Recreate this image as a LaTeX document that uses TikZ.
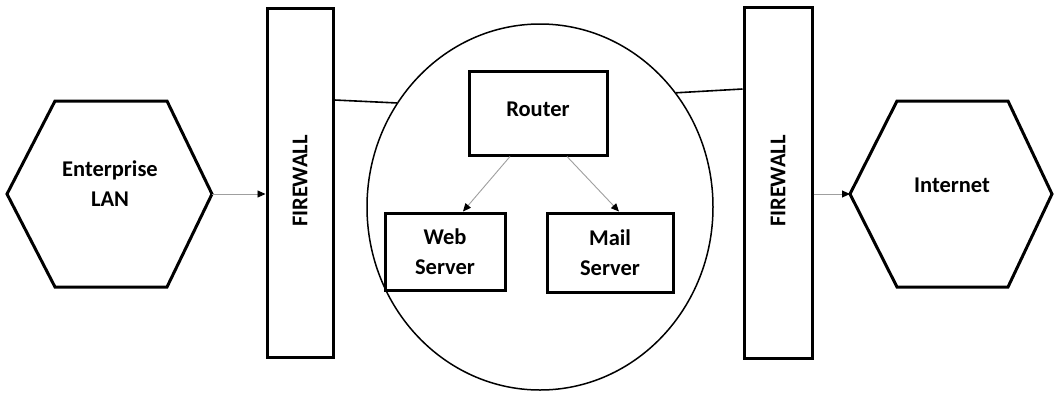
\documentclass[tikz,border=0pt]{standalone}
\usepackage{fontspec}
\setmainfont{Carlito}
\usetikzlibrary{arrows.meta,shapes.geometric}
\begin{document}
\begin{tikzpicture}[x=1pt,y=-1pt,
  lbl/.style={font=\bfseries\fontsize{22.5}{30}\selectfont, align=center, inner sep=0},
  hexline/.style={line width=3pt, line join=miter},
  fwbox/.style={draw, line width=3pt, inner sep=0},
  srvbox/.style={draw, line width=3pt, inner sep=0, font=\bfseries\fontsize{22.5}{30}\selectfont, align=center},
  conn/.style={line width=1.6pt},
  arr/.style={draw=gray!75, line width=0.9pt, -{Triangle[length=8pt,width=7pt,color=black]}}
]
\useasboundingbox (0,0) rectangle (1055,392);
\fill[white] (0,0) rectangle (1055,392);

% left hexagon
\draw[hexline] (7,194) coordinate (lanW) -- (55,101) -- (167,101) -- (212,194) coordinate (lanE) -- (167,287) -- (55,287) -- cycle;
\node[lbl] (lan) at (110,184) {Enterprise\\LAN};

% right hexagon
\draw[hexline] (850,194) coordinate (netW) -- (897,101) -- (1008,101) -- (1052,194) coordinate (netE) -- (1008,287) -- (897,287) -- cycle;
\node[lbl] (net) at (952,185) {Internet};

% firewalls
\node[fwbox, minimum width=66, minimum height=349] (fw1) at (300,182.5) {};
\node[lbl, rotate=90] (fw1t) at (300,181) {FIREWALL};
\node[fwbox, minimum width=68, minimum height=351] (fw2) at (778,182.5) {};
\node[lbl, rotate=90] (fw2t) at (778,181) {FIREWALL};

% DMZ ellipse
\node[draw, ellipse, line width=1.5pt, minimum width=346, minimum height=366, inner sep=0] (dmz) at (540,207) {};

% servers
\node[srvbox, minimum width=138, minimum height=84] (router) at (538,113) {\raisebox{8pt}{Router}};
\node[srvbox, minimum width=120, minimum height=77] (web) at (445,251.5) {Web\\Server};
\node[srvbox, minimum width=126, minimum height=79] (mail) at (610,252.5) {Mail\\Server};

% connectors
\draw[arr] (lanE) -- (fw1.west |- lanE);
\draw[arr] (fw2.east |- netW) -- (netW);
\draw[conn] (fw1.east |- 0,100) -- (dmz.144);
\draw[conn] (dmz.40) -- (fw2.west |- 0,89);
\draw[arr] ([xshift=-28pt]router.south) -- ([xshift=18pt]web.north);
\draw[arr] ([xshift=29pt]router.south) -- ([xshift=9pt]mail.north);
\end{tikzpicture}
\end{document}
